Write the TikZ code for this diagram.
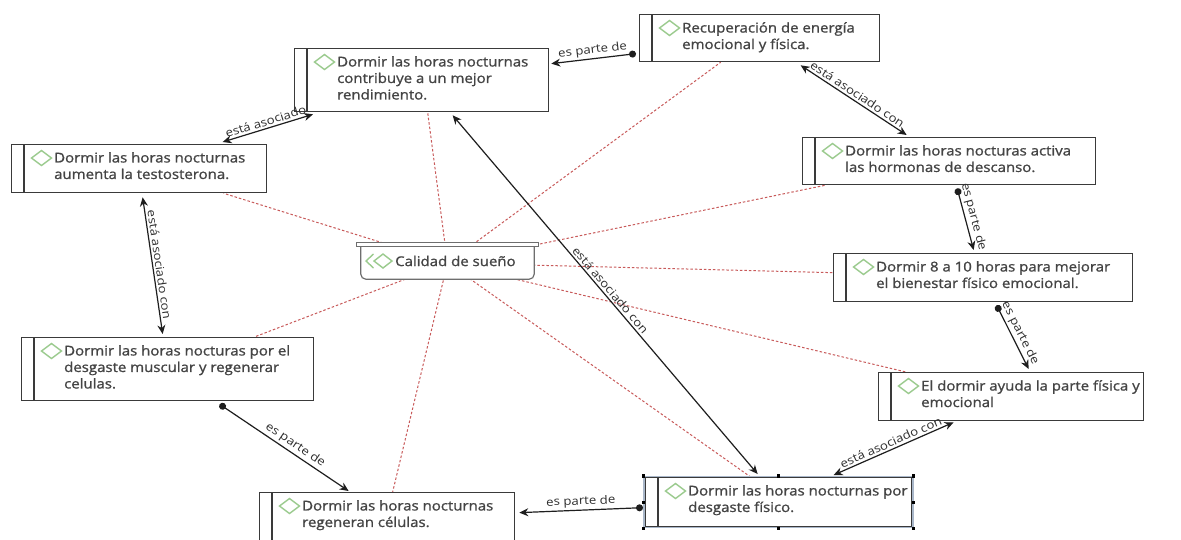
\documentclass[tikz,border=0pt]{standalone}
\usepackage{fontspec}
\setmainfont{Open Sans}[FakeStretch=1.15]
\newfontfamily\boxfont{Open Sans}[FakeBold=1.1, FakeStretch=1.11]
\usetikzlibrary{arrows.meta,backgrounds}
\definecolor{txtcol}{HTML}{444444}
\definecolor{bordcol}{HTML}{3A3A3A}
\definecolor{dgreen}{HTML}{9BCB8E}
\definecolor{rdash}{HTML}{C85A5A}
\definecolor{conncol}{HTML}{1E1E1E}
\definecolor{selcol}{HTML}{A9B7C9}
\definecolor{dbord}{HTML}{6E6E6E}
\tikzset{
  cbox/.style={draw=bordcol, line width=1.3pt, fill=white, rectangle, inner sep=0pt},
  barline/.style={draw=bordcol, line width=1.3pt},
  ctext/.style={text=txtcol, font=\boxfont\fontsize{13.5}{16.5}\selectfont, align=left, inner sep=0pt},
  diam/.style={draw=dgreen, line width=1.4pt, line join=miter},
  rel/.style={draw=rdash, line width=1pt, dash pattern=on 2.5pt off 2pt},
  connline/.style={draw=conncol, line width=1.2pt},
  both/.style={connline, {Stealth[length=9pt,width=8pt]}-{Stealth[length=9pt,width=8pt]}},
  fromdot/.style={connline, {Circle[length=7pt]}-{Stealth[length=9pt,width=8pt]}},
  todot/.style={connline, {Stealth[length=9pt,width=8pt]}-{Circle[length=7pt]}},
  lab/.style={font=\fontsize{11.5}{13}\selectfont, text=black!82, inner sep=2pt, sloped, above},
}
\newcommand{\conceptbox}[6]{%
  \node[cbox, anchor=north west, minimum width=#4pt, minimum height=#5pt] (#1) at (#2,#3) {};
  \draw[barline] ([xshift=13pt]#1.north west) -- ([xshift=13pt]#1.south west);
  \draw[diam] ([xshift=20.5pt,yshift=-14pt]#1.north west) -- ++(10,-7.5) -- ++(10,7.5) -- ++(-10,7.5) -- cycle;
  \node[ctext, anchor=north west] (#1t) at ([xshift=43pt,yshift=-8pt]#1.north west) {#6};
}
\begin{document}
\begin{tikzpicture}[x=1pt,y=-1pt]
\useasboundingbox (0,0) rectangle (1181,539);

\conceptbox{A}{294}{48}{254}{63}{Dormir las horas nocturnas\\contribuye a un mejor\\rendimiento.}
\conceptbox{B}{639}{14}{240}{47}{Recuperación de energía\\emocional y física.}
\conceptbox{C}{11}{144}{255}{48}{Dormir las horas nocturnas\\aumenta la testosterona.}
\conceptbox{E}{802}{137}{293}{47}{Dormir las horas nocturas activa\\las hormonas de descanso.}
\conceptbox{F}{833}{253}{299}{48}{Dormir 8 a 10 horas para mejorar\\el bienestar físico emocional.}
\conceptbox{G}{878}{372}{265}{48}{El dormir ayuda la parte física y\\emocional}
\conceptbox{H}{645}{477}{266}{49}{Dormir las horas nocturnas por\\desgaste físico.}
\conceptbox{I}{21}{337}{292}{63}{Dormir las horas nocturas por el\\desgaste muscular y regenerar\\celulas.}
\conceptbox{J}{259}{492}{255}{51}{Dormir las horas nocturnas\\regeneran células.}

% selection frame around H
\node[draw=selcol, line width=1.4pt, minimum width=269pt, minimum height=51pt, inner sep=0pt] (Hsel) at (H.center) {};
\foreach \a in {north west,north,north east,west,east,south west,south,south east}
  \fill[black] (Hsel.\a) ++(-1.6,-1.6) rectangle ++(3.2,3.2);

% central node
\node[minimum width=173pt, minimum height=32pt, inner sep=0pt, fill=white] (D) at (447.5,263) {};
\draw[dbord, line width=1.2pt, rounded corners=5pt] (D.north west) -- (D.south west) -- (D.south east) -- (D.north east);
\draw[dbord, line width=1.1pt, fill=white] ([xshift=-4pt]D.north west) rectangle ([xshift=4pt,yshift=4pt]D.north east);
\draw[diam] (373.5,254) -- (366,261) -- (373.5,268);
\draw[diam] (374,261) -- (383,254) -- (392,261) -- (383,268) -- cycle;
\node[ctext, anchor=west] (Dt) at (395,261) {Calidad de sueño};

% connectors
\draw[todot] ([xshift=2pt,yshift=16.5pt]A.east) -- node[lab]{es parte de} ([xshift=-3pt,yshift=-15.5pt]B.west);
\draw[both] ([xshift=83.5pt,yshift=2pt]C.north) -- node[lab]{está asociado} ([xshift=19pt,yshift=-2pt]A.south west);
\draw[both] ([xshift=41pt,yshift=-3pt]B.south) -- node[lab]{está asociado con} ([xshift=-42.5pt,yshift=2pt]E.north);
\draw[fromdot] ([xshift=8pt,yshift=-3pt]E.south) -- node[lab]{es parte de} ([xshift=-9.5pt,yshift=3pt]F.north);
\draw[fromdot] ([xshift=13.5pt,yshift=-3pt]F.south) -- node[lab]{es parte de} ([xshift=17.5pt,yshift=3pt]G.north);
\draw[both] ([xshift=55pt,yshift=2pt]H.north) -- node[lab]{está asociado con} ([xshift=-57.5pt,yshift=-1pt]G.south);
\draw[both] ([xshift=31pt,yshift=-3pt]A.south) -- node[lab]{está asociado con} ([xshift=-21pt,yshift=3pt]H.north);
\draw[both] ([xshift=3.5pt,yshift=-4pt]C.south) -- node[lab]{está asociado con} ([xshift=-5pt,yshift=3pt]I.north);
\draw[fromdot] ([xshift=52pt,yshift=-3pt]I.south) -- node[lab, pos=0.55]{es parte de} ([xshift=-38.5pt,yshift=1pt]J.north);
\draw[todot] ([xshift=4pt,yshift=5.5pt]J.east) -- node[lab]{es parte de} ([xshift=-2pt,yshift=-5.5pt]H.west);

\begin{pgfonlayer}{background}
\fill[white] (0,0) rectangle (1181,539);
\draw[rel] (D.center) -- ([xshift=6pt]A.south);
\draw[rel] (D.center) -- ([xshift=-39pt]B.south);
\draw[rel] (D.center) -- ([xshift=84.5pt]C.south);
\draw[rel] (D.center) -- ([xshift=23pt]E.south west);
\draw[rel] (D.center) -- ([yshift=5pt]F.west);
\draw[rel] (D.center) -- ([xshift=28pt]G.north west);
\draw[rel] (D.center) -- ([xshift=-28pt]H.north);
\draw[rel] (D.center) -- ([xshift=5.5pt]J.north);
\draw[rel] (D.center) -- ([xshift=-60pt]I.north east);
\end{pgfonlayer}
\end{tikzpicture}
\end{document}
